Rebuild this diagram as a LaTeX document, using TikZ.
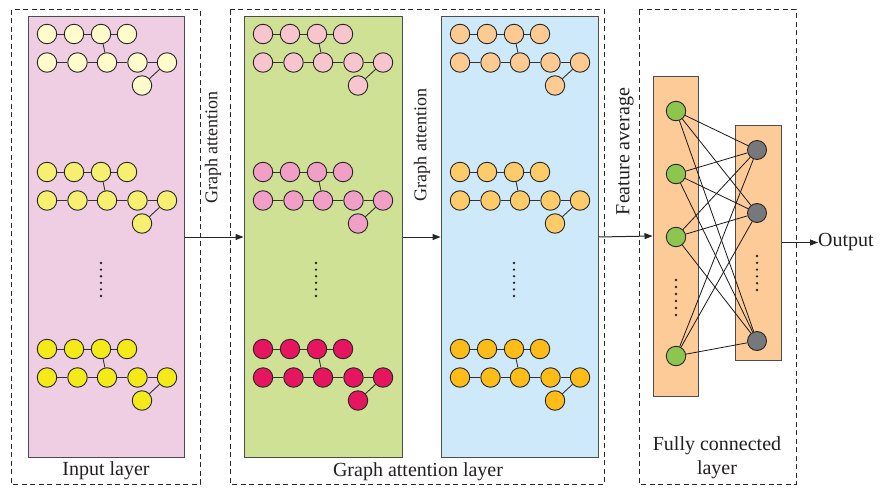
\documentclass[tikz,border=0pt]{standalone}
\usepackage{fontspec}
\setmainfont{Liberation Serif}
\usetikzlibrary{arrows.meta}
\definecolor{txt}{HTML}{231F20}
\definecolor{bpink}{HTML}{EFCEE4}
\definecolor{bgreen}{HTML}{CFE194}
\definecolor{bblue}{HTML}{CEEAFA}
\definecolor{bfc}{HTML}{FDCB98}
\definecolor{yA}{HTML}{FFFBCB}
\definecolor{yB}{HTML}{F6EF70}
\definecolor{yC}{HTML}{F4E919}
\definecolor{pA}{HTML}{F8C5CF}
\definecolor{pB}{HTML}{F19FC6}
\definecolor{pC}{HTML}{E5165F}
\definecolor{oA}{HTML}{FDCA91}
\definecolor{oB}{HTML}{FECB6A}
\definecolor{oC}{HTML}{FDBC17}
\definecolor{ngreen}{HTML}{8DC64F}
\definecolor{ngray}{HTML}{77787B}
\tikzset{
  gn/.style={circle,draw=black!85,line width=0.9pt,minimum size=19.5pt,inner sep=0pt},
  ge/.style={draw=black!80,line width=0.9pt},
  panel/.style={draw=black!70,line width=1pt,rectangle,inner sep=0pt},
  dashbox/.style={draw=black!85,line width=1pt,dash pattern=on 5pt off 3.5pt},
  arr/.style={draw=black!85,line width=1pt,-{Triangle[length=8pt,width=6pt]}},
  lbl/.style={text=txt,font=\fontsize{20}{24}\selectfont,inner sep=0pt},
  rlbl/.style={text=txt,font=\fontsize{18}{22}\selectfont,inner sep=0pt,rotate=90},
  fcn/.style={circle,draw=black!85,line width=0.9pt,minimum size=19.5pt,inner sep=0pt},
  fce/.style={draw=black!90,line width=0.8pt}
}
\newcommand\gcluster[4]{%
  \foreach \i/\dx in {1/19,2/46,3/73,4/99}
    \node[gn,fill=#4] (#1a\i) at (#2+\dx,#3) {};
  \foreach \i/\dx in {1/19,2/49.5,3/79,4/109.5,5/139}
    \node[gn,fill=#4] (#1b\i) at (#2+\dx,#3+28.5) {};
  \node[gn,fill=#4] (#1c) at (#2+114,#3+51.5) {};
  \draw[ge] (#1a1)--(#1a2)--(#1a3)--(#1a4);
  \draw[ge] (#1b1)--(#1b2)--(#1b3)--(#1b4)--(#1b5);
  \draw[ge] (#1a3)--(#1b3);
  \draw[ge] (#1b5)--(#1c);
}
\newcommand\vdotsrow[4]{% x, ytop, spacing, count
  \foreach \k in {1,...,#4}
    \fill[black!85] (#1,{#2+(\k-1)*#3}) circle (1.3pt);
}
\begin{document}
\begin{tikzpicture}[x=1pt,y=-1pt]
\useasboundingbox[fill=white] (0,0) rectangle (880,487);
% dashed groups
\draw[dashbox] (11,10) rectangle (200,484);
\draw[dashbox] (230,10) rectangle (604,484);
\draw[dashbox] (639,10) rectangle (796,484);
% panels
\node[panel,fill=bpink,minimum width=156pt,minimum height=440pt] (pin) at (106,237) {};
\node[panel,fill=bgreen,minimum width=158pt,minimum height=440pt] (pga) at (323,237) {};
\node[panel,fill=bblue,minimum width=157pt,minimum height=440pt] (pgb) at (519.5,237) {};
\node[panel,fill=bfc,minimum width=45pt,minimum height=320pt] (fcl) at (675.5,236) {};
\node[panel,fill=bfc,minimum width=46pt,minimum height=235pt] (fcs) at (758,242.5) {};
% clusters
\gcluster{ia}{28}{34}{yA}
\gcluster{ib}{28}{172}{yB}
\gcluster{ic}{28}{349}{yC}
\gcluster{ga}{244}{34}{pA}
\gcluster{gb}{244}{172}{pB}
\gcluster{gc}{244}{349}{pC}
\gcluster{ba}{441}{34}{oA}
\gcluster{bb}{441}{172}{oB}
\gcluster{bc}{441}{349}{oC}
\vdotsrow{101}{263}{6.6}{6}
\vdotsrow{316}{263}{6.6}{6}
\vdotsrow{514}{263}{6.6}{6}
% fully connected nodes
\foreach \i/\y in {1/111,2/174,3/237,4/356}
  \node[fcn,fill=ngreen] (g\i) at (676,\y) {};
\foreach \j/\y in {1/150,2/213,3/341}
  \node[fcn,fill=ngray,minimum size=19pt] (h\j) at (757,\y) {};
\vdotsrow{676}{280}{7}{6}
\vdotsrow{757}{256}{6.8}{6}
\foreach \i in {1,2,3,4}
  \foreach \j in {1,2,3}
    \draw[fce] (g\i) -- (h\j);
% arrows
\draw[arr] (pin.east) -- (pga.west);
\draw[arr] (pga.east) -- (pgb.west);
\draw[arr] (pgb.east) -- (fcl.west);
\node[lbl,anchor=west] (out) at (818,242.5) {Output};
\draw[arr] (fcs.east) -- (out.west);
% labels
\node[rlbl] (l1) at (213,147.5) {Graph attention};
\node[rlbl] (l2) at (422,145) {Graph attention};
\node[rlbl,font=\fontsize{20}{22}\selectfont] (l3) at (625,151.5) {Feature average};
\node[lbl] (t1) at (106,471) {Input layer};
\node[lbl] (t2) at (418,472) {Graph attention layer};
\node[lbl,align=center] (t3) at (717,458) {Fully connected\\layer};
\end{tikzpicture}
\end{document}
